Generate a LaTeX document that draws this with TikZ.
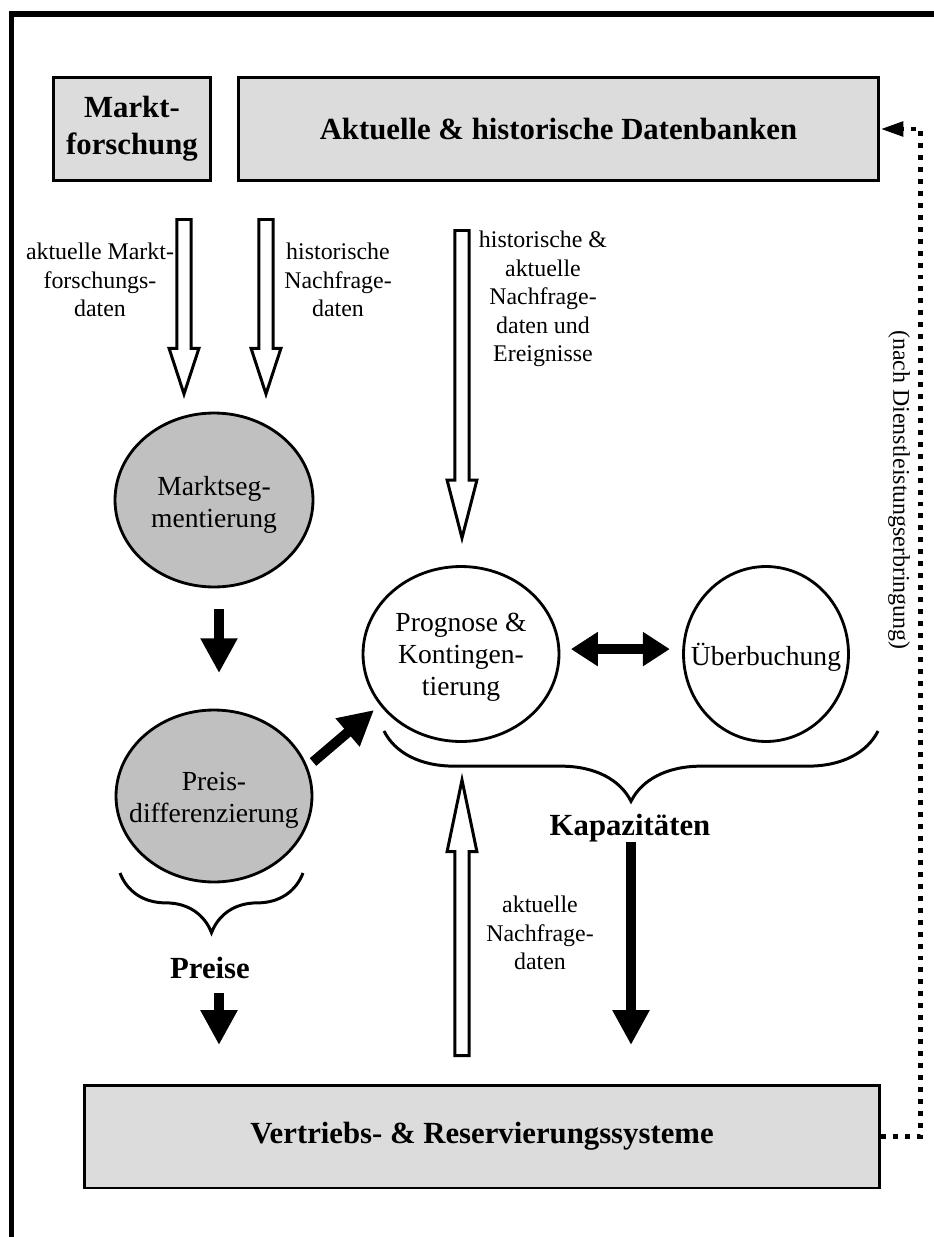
\documentclass[tikz,border=0pt]{standalone}
\usepackage{fontspec}
\setmainfont{Liberation Serif}
\usetikzlibrary{shapes.geometric, arrows.meta, calc, decorations.pathreplacing}

\definecolor{boxgray}{HTML}{DCDCDC}
\definecolor{ellgray}{HTML}{C0C0C0}

% hollow block arrow from #2 to #3, head length #1
\newcommand{\hollowarrow}[3][26pt]{%
	\coordinate (ha) at ($(#3)!#1!(#2)$);
	\draw[openarrow] ($(#2)!4pt!90:(#3)$) -- ($(ha)!4pt!90:(#3)$) -- ($(ha)!8.5pt!90:(#3)$) -- (#3)
		-- ($(ha)!8.5pt!-90:(#3)$) -- ($(ha)!4pt!-90:(#3)$) -- ($(#2)!4pt!-90:(#3)$) -- cycle;}

\begin{document}
\begin{tikzpicture}[x = 0.02cm, y = -0.02cm,
	box/.style = {draw, line width = 1.7pt, fill = boxgray, align = center, inner sep = 0pt,
		font = \bfseries\fontsize{17.5}{21}\selectfont},
	task/.style = {draw, ellipse, line width = 1.6pt, inner sep = 0pt},
	tasktext/.style = {align = center, inner sep = 0pt, font = \fontsize{15.7}{18.3}\selectfont},
	note/.style = {align = center, inner sep = 0pt, font = \fontsize{13.6}{16.2}\selectfont},
	heading/.style = {inner sep = 0pt, font = \bfseries\fontsize{17.5}{21}\selectfont},
	openarrow/.style = {draw, line width = 1.7pt, fill = white, line join = miter},
	fatarrow/.style = {line width = 5.7pt, -{Triangle[length = 19.8pt, width = 19.8pt]}},
	capbrace/.style = {line width = 1.7pt, decorate, decoration = {brace, mirror, amplitude = #1}},
	feedback/.style = {line width = 2.8pt, dash pattern = on 2.8pt off 4pt,
		-{Triangle[length = 13pt, width = 8pt]}}]
	\useasboundingbox (0, 0) rectangle (933, 1237);

	% frame
	\draw[line width = 3.1pt] (11.5, 1240) -- (11.5, 14) -- (936, 14);

	% boxes
	\node[box, minimum width = 3.14cm, minimum height = 2.08cm] (markt) at (132, 129) {Markt-\\forschung};
	\node[box, minimum width = 12.82cm, minimum height = 2.08cm] (db) at (558.5, 129) {Aktuelle \& historische Datenbanken};
	\node[box, minimum width = 15.92cm, minimum height = 2.06cm] (vert) at (482, 1136.5) {Vertriebs- \& Reservierungssysteme};

	% ellipses
	\node[task, fill = ellgray, minimum width = 3.96cm, minimum height = 3.48cm] (seg) at (214, 500) {};
	\node[tasktext] (seg-txt) at (214, 505) {Marktseg-\\mentierung};
	\node[task, fill = ellgray, minimum width = 3.92cm, minimum height = 3.44cm] (preis) at (214, 796) {};
	\node[tasktext] (preis-txt) at (214, 800) {Preis-\\differenzierung};
	\node[task, fill = white, minimum width = 3.92cm, minimum height = 3.5cm] (prog) at (461, 654) {};
	\node[tasktext] (prog-txt) at (461, 657) {Prognose \&\\Kontingen-\\tierung};
	\node[task, fill = white, minimum width = 3.3cm, minimum height = 3.5cm] (ueber) at (766, 654) {};
	\node[tasktext] (ueber-txt) at (766, 657) {Überbuchung};

	% labels
	\node[note] (lab-mf) at (100, 280) {aktuelle Markt-\\forschungs-\\daten};
	\node[note] (lab-hn) at (338, 280) {historische\\Nachfrage-\\daten};
	\node[note] (lab-he) at (543, 299) {historische \&\\aktuelle\\Nachfrage-\\daten und\\Ereignisse};
	\node[note] (lab-an) at (540, 933) {aktuelle\\Nachfrage-\\daten};
	\node[heading] (preise) at (210, 968) {Preise};
	\node[heading] (kap) at (630, 828) {Kapazitäten};
	\node[note, rotate = -90] (lab-nd) at (899, 490) {(nach Dienstleistungserbringung)};

	% hollow arrows
	\coordinate (in1a) at (184, 219.5);
	\coordinate (in1b) at (184, 394);
	\coordinate (in2a) at (266, 219.5);
	\coordinate (in2b) at (266, 394);
	\coordinate (in3a) at (462, 230.5);
	\coordinate (in3b) at (462, 538);
	\coordinate (in4a) at (462, 1055.5);
	\coordinate (in4b) at (462, 780);
	\hollowarrow{in1a}{in1b}
	\hollowarrow{in2a}{in2b}
	\hollowarrow[33pt]{in3a}{in3b}
	\hollowarrow[40.8pt]{in4a}{in4b}

	% black arrows
	\coordinate (d1a) at (313, 762);
	\coordinate (d1b) at (374, 710);
	\coordinate (p1) at (219, 993);
	\coordinate (p2) at (219, 1045);
	\coordinate (k1) at (631, 842);
	\coordinate (k2) at (631, 1045);
	\draw[fatarrow, shorten < = 13, shorten > = 21] (219, 586) -- (219, 710);
	\draw[fatarrow] (d1a) -- (d1b);
	\draw[fatarrow, {Triangle[length = 15.3pt, width = 18.5pt]}-{Triangle[length = 15.3pt, width = 18.5pt]},
		shorten < = 6pt, shorten > = 7pt] ([yshift = 2.8pt]prog.east) -- ([yshift = 2.8pt]ueber.west);
	\draw[fatarrow] (p1) -- (p2);
	\draw[fatarrow] (k1) -- (k2);

	% braces
	\draw[capbrace = 34pt] (120, 873) -- (303, 873);
	\draw[capbrace = 40pt] (384, 731) -- (878, 731);

	% feedback line
	\draw[feedback] (vert.east) -- ++(39, 0) |- (db.east);
\end{tikzpicture}
\end{document}
